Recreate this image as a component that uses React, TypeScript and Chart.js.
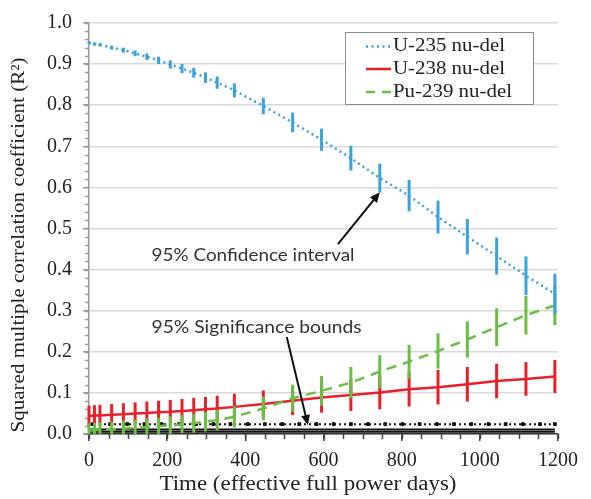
import React, { useEffect, useRef } from "react";
import { Chart, registerables } from "chart.js";

Chart.register(...registerables);

// ---- data ----
const times = [0, 14, 28, 58, 88, 118, 148, 178, 208, 238, 268, 298, 328, 372, 446, 521, 595, 670, 744, 819, 893, 968, 1043, 1118, 1192];

const u235 = [0.952, 0.949, 0.947, 0.94, 0.934, 0.926, 0.918, 0.909, 0.899, 0.889, 0.879, 0.867, 0.855, 0.836, 0.798, 0.758, 0.716, 0.671, 0.623, 0.58, 0.528, 0.48, 0.433, 0.385, 0.341];
const u235Err = [0.003, 0.004, 0.004, 0.005, 0.006, 0.007, 0.008, 0.009, 0.01, 0.011, 0.012, 0.013, 0.015, 0.017, 0.02, 0.024, 0.027, 0.03, 0.035, 0.038, 0.04, 0.043, 0.045, 0.047, 0.049];

const u238 = [0.044, 0.045, 0.045, 0.047, 0.048, 0.05, 0.051, 0.053, 0.054, 0.056, 0.058, 0.06, 0.062, 0.066, 0.073, 0.081, 0.089, 0.095, 0.101, 0.109, 0.114, 0.121, 0.129, 0.134, 0.14];
const u238Err = [0.025, 0.025, 0.026, 0.026, 0.027, 0.027, 0.028, 0.028, 0.029, 0.029, 0.03, 0.03, 0.031, 0.032, 0.033, 0.035, 0.037, 0.039, 0.041, 0.042, 0.042, 0.042, 0.042, 0.041, 0.04];

const pu239 = [0.008, 0.009, 0.01, 0.011, 0.013, 0.015, 0.017, 0.019, 0.021, 0.024, 0.026, 0.03, 0.034, 0.042, 0.062, 0.087, 0.105, 0.125, 0.152, 0.176, 0.202, 0.23, 0.26, 0.289, 0.313];
const pu239Err = [0.018, 0.018, 0.019, 0.019, 0.02, 0.02, 0.021, 0.021, 0.022, 0.022, 0.023, 0.024, 0.025, 0.026, 0.029, 0.033, 0.036, 0.038, 0.04, 0.041, 0.043, 0.044, 0.046, 0.047, 0.048];

// significance bounds
const sigMarkX = [0, 10, 54, 98, 142, 186, 230, 274, 318, 362, 406, 450, 494, 538, 582, 626, 670, 714, 758, 802, 846, 890, 934, 978, 1022, 1066, 1110, 1154, 1192];
const sigDottedLevel = 0.024;
const sigSolidLevels = [0.011, 0.0055];

const xTicks = { min: 0, max: 1200, step: 200, minor: 50 };
const yTicks = { min: 0, max: 1, step: 0.1, minor: 0.02 };

const seriesNames = ["U-235 nu-del", "U-238 nu-del", "Pu-239 nu-del"];
const xTitle = "Time (effective full power days)";
const yTitle = "Squared multiple correlation coefficient (R\u00B2)";

const BLUE = "#3aa3dc";
const RED = "#e8202a";
const GREEN = "#6cbd45";

const SERIF = "'Liberation Serif', 'Times New Roman', serif";
const SANS = "Lato, 'Open Sans', sans-serif";

function fitText(ctx: CanvasRenderingContext2D, text: string, x: number, y: number, font: string, targetW: number, align: CanvasTextAlign, color: string, rot = 0) {
  ctx.save();
  ctx.font = font;
  const w = ctx.measureText(text).width;
  const sx = targetW / w;
  ctx.translate(x, y);
  if (rot) ctx.rotate(rot);
  ctx.scale(sx, 1);
  ctx.textAlign = align;
  ctx.textBaseline = "middle";
  ctx.fillStyle = color;
  ctx.fillText(text, 0, 0);
  ctx.restore();
}

function arrow(ctx: CanvasRenderingContext2D, x1: number, y1: number, x2: number, y2: number) {
  const ang = Math.atan2(y2 - y1, x2 - x1);
  const hl = 10, hw = 4.5;
  ctx.save();
  ctx.strokeStyle = "#111";
  ctx.fillStyle = "#111";
  ctx.lineWidth = 2;
  ctx.beginPath();
  ctx.moveTo(x1, y1);
  ctx.lineTo(x2 - Math.cos(ang) * hl * 0.8, y2 - Math.sin(ang) * hl * 0.8);
  ctx.stroke();
  ctx.beginPath();
  ctx.moveTo(x2, y2);
  ctx.lineTo(x2 - Math.cos(ang) * hl - Math.sin(ang) * hw, y2 - Math.sin(ang) * hl + Math.cos(ang) * hw);
  ctx.lineTo(x2 - Math.cos(ang) * hl + Math.sin(ang) * hw, y2 - Math.sin(ang) * hl - Math.cos(ang) * hw);
  ctx.closePath();
  ctx.fill();
  ctx.restore();
}

const errSets: Record<number, { vals: number[]; errs: number[]; color: string }> = {
  0: { vals: u235, errs: u235Err, color: BLUE },
  1: { vals: u238, errs: u238Err, color: RED },
  2: { vals: pu239, errs: pu239Err, color: GREEN },
};

const annotations = [
  { text: "95% Confidence interval", x: 160, y: 0.434, width: 203, tail: [637, 0.462], tip: [times[18], u235[18] - u235Err[18]] },
  { text: "95% Significance bounds", x: 160, y: 0.26, width: 210, tail: [506, 0.236], tip: [560, sigDottedLevel - 0.002] },
];

const customPlugin = {
  id: "custom",
  beforeDatasetsDraw(chart: any) {
    const ctx = chart.ctx as CanvasRenderingContext2D;
    const xs = chart.scales.x, ys = chart.scales.y;
    const ca = chart.chartArea;
    ctx.save();
    ctx.strokeStyle = "#999";
    ctx.lineWidth = 1.5;
    for (let v = yTicks.min; v <= yTicks.max + 1e-9; v += yTicks.minor) {
      const py = Math.round(ys.getPixelForValue(v)) + 0.5;
      ctx.beginPath();
      ctx.moveTo(ca.left - 4, py);
      ctx.lineTo(ca.left, py);
      ctx.stroke();
    }
    ctx.strokeStyle = "#444";
    for (let v = xTicks.min; v <= xTicks.max; v += xTicks.minor) {
      const px = Math.round(xs.getPixelForValue(v)) + 0.5;
      ctx.beginPath();
      ctx.moveTo(px, ca.bottom);
      ctx.lineTo(px, ca.bottom + 5);
      ctx.stroke();
    }
    ctx.restore();
  },
  afterDatasetDraw(chart: any, args: any) {
    const set = errSets[args.index];
    if (!set) return;
    const ctx = chart.ctx as CanvasRenderingContext2D;
    const xs = chart.scales.x, ys = chart.scales.y;
    const ca = chart.chartArea;
    ctx.save();
    ctx.strokeStyle = set.color;
    ctx.lineWidth = 3;
    set.vals.forEach((v, j) => {
      const px = xs.getPixelForValue(times[j]);
      const top = ys.getPixelForValue(v + set.errs[j]);
      const bot = Math.min(ca.bottom, ys.getPixelForValue(v - set.errs[j]));
      ctx.beginPath();
      ctx.moveTo(px, top);
      ctx.lineTo(px, bot);
      ctx.stroke();
    });
    ctx.restore();
  },
  afterDraw(chart: any) {
    const ctx = chart.ctx as CanvasRenderingContext2D;
    const xs = chart.scales.x, ys = chart.scales.y;

    fitText(ctx, xTitle, 308, 485, `20px ${SERIF}`, 297, "center", "#222");
    fitText(ctx, yTitle, 19, 245, `19px ${SERIF}`, 375, "center", "#222", -Math.PI / 2);

    // legend
    const lx = 345, ly = 32, lw = 188, lh = 72;
    ctx.save();
    ctx.fillStyle = "#fff";
    ctx.fillRect(lx, ly, lw, lh);
    ctx.strokeStyle = "#8c8c8c";
    ctx.lineWidth = 1;
    ctx.strokeRect(lx + 0.5, ly + 0.5, lw, lh);
    const rows = [46.5, 69, 92];
    const styles = [
      { color: BLUE, dash: [2, 3.5] },
      { color: RED, dash: [] as number[] },
      { color: GREEN, dash: [9, 7] },
    ];
    ctx.font = `18px ${SERIF}`;
    const sx = 112 / ctx.measureText(seriesNames[0]).width;
    rows.forEach((ry, i) => {
      ctx.strokeStyle = styles[i].color;
      ctx.lineWidth = 2.5;
      ctx.setLineDash(styles[i].dash);
      ctx.beginPath();
      ctx.moveTo(366, ry);
      ctx.lineTo(391, ry);
      ctx.stroke();
      ctx.setLineDash([]);
      ctx.save();
      ctx.translate(393, ry);
      ctx.scale(sx, 1);
      ctx.fillStyle = "#222";
      ctx.textAlign = "left";
      ctx.textBaseline = "middle";
      ctx.font = `18px ${SERIF}`;
      ctx.fillText(seriesNames[i], 0, 0);
      ctx.restore();
    });
    ctx.restore();

    annotations.forEach((a) => {
      fitText(ctx, a.text, xs.getPixelForValue(a.x), ys.getPixelForValue(a.y), `18px ${SANS}`, a.width, "left", "#333");
      arrow(ctx, xs.getPixelForValue(a.tail[0]), ys.getPixelForValue(a.tail[1]), xs.getPixelForValue(a.tip[0]), ys.getPixelForValue(a.tip[1]));
    });
  },
};

export default function App() {
  const ref = useRef<HTMLCanvasElement | null>(null);
  useEffect(() => {
    const canvas = ref.current;
    if (!canvas) return;
    const pts = (vals: number[]) => vals.map((y, i) => ({ x: times[i], y }));
    const chart = new Chart(canvas, {
      type: "line",
      data: {
        datasets: [
          { label: seriesNames[0], data: pts(u235), borderColor: BLUE, borderWidth: 2.5, borderDash: [2, 3.5], pointRadius: 0, order: 1 },
          { label: seriesNames[1], data: pts(u238), borderColor: RED, borderWidth: 2.5, pointRadius: 0, order: 3 },
          { label: seriesNames[2], data: pts(pu239), borderColor: GREEN, borderWidth: 2.5, borderDash: [10, 7], pointRadius: 0, order: 2 },
          {
            label: "sig-dotted",
            data: sigMarkX.map((x) => ({ x, y: sigDottedLevel })),
            borderColor: "#111",
            borderWidth: 2,
            borderDash: [2, 3],
            pointStyle: "rect",
            pointRadius: sigMarkX.map((_, i) => (i === 0 ? 0 : 2)),
            pointBackgroundColor: "#111",
            pointBorderColor: "#111",
            pointBorderWidth: 1,
            order: 4,
          },
          ...sigSolidLevels.map((lv, k) => ({
            label: "sig-solid-" + k,
            data: [{ x: times[0], y: lv }, { x: times[times.length - 1], y: lv }],
            borderColor: "#111",
            borderWidth: 1.8,
            pointRadius: 0,
            order: 5,
          })),
        ],
      },
      options: {
        animation: false,
        responsive: true,
        maintainAspectRatio: false,
        layout: { padding: { top: 15, right: 33, left: 0, bottom: 0 } },
        plugins: { legend: { display: false }, tooltip: { enabled: false } },
        scales: {
          x: {
            type: "linear",
            min: xTicks.min,
            max: xTicks.max,
            ticks: { stepSize: xTicks.step, font: { family: SERIF, size: 20 }, color: "#222", padding: 8, maxRotation: 0, callback: (v: any) => String(v) },
            grid: { drawOnChartArea: false, tickLength: 7, tickColor: "#444", lineWidth: 1.5 },
            border: { color: "#333", width: 1.5 },
            afterFit: (s: any) => { s.height = 65; },
          },
          y: {
            type: "linear",
            min: yTicks.min,
            max: yTicks.max,
            ticks: { stepSize: yTicks.step, font: { family: SERIF, size: 20 }, color: "#222", padding: 11, callback: (v: any) => Number(v).toFixed(1) },
            grid: { color: "#d9d9d9", lineWidth: 1.5, tickLength: 6, tickColor: "#999" },
            border: { color: "#999", width: 1.5 },
            afterFit: (s: any) => { s.width = 89; },
          },
        },
      },
      plugins: [customPlugin],
    } as any);
    return () => chart.destroy();
  }, []);
  return (
    <div style={{ position: "fixed", left: 0, top: 0, width: 591, height: 499, background: "#fff" }}>
      <canvas ref={ref} />
    </div>
  );
}
